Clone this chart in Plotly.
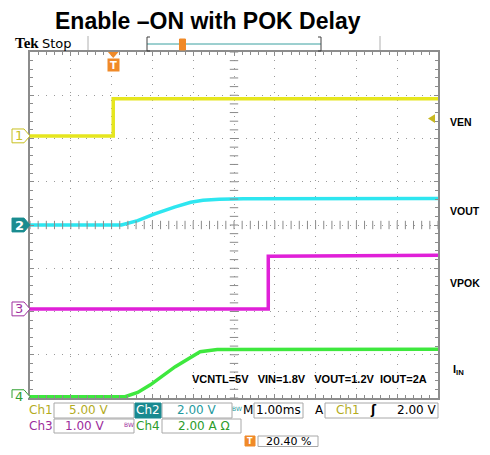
import plotly.graph_objects as go
import numpy as np

# the page body has an 8px margin, so the figure is drawn 8px in from the
# window corner; lay everything out in window pixels and shift by that
PAD = 8
W, H = 490 - 2 * PAD, 455 - 2 * PAD

# time axis in ms, relative to trigger (1.00 ms/div, trigger at 20.40 % of record)
t_start, t_end = -2.04, 7.96

# Ch1 VEN (V)
t_ven = [-2.04, 0.0, 0.0, 7.96]
ven = [0.0, 0.0, 4.3, 4.3]
# Ch2 VOUT (V)
t_vout = [-2.04, 0.2, 0.6, 1.0, 1.5, 1.9, 2.2, 2.6, 3.2, 7.96]
vout = [0.0, 0.0, 0.2, 0.5, 0.83, 1.05, 1.14, 1.19, 1.21, 1.22]
# Ch3 VPOK (V)
t_vpok = [-2.04, 3.8, 3.8, 7.96]
vpok = [0.0, 0.0, 1.22, 1.24]
# Ch4 IIN (A)
t_iin = [-2.04, 0.29, 0.6, 0.91, 1.52, 2.13, 2.55, 7.96]
iin = [0.0, 0.0, 0.2, 0.55, 1.39, 2.08, 2.18, 2.2]

trig_level = 2.0  # V on Ch1

# name, time, values, units/div, ground position (div), trace colour
channels = [
    ("1", t_ven, ven, 5.0, 2.06, "#e6e61e"),
    ("2", t_vout, vout, 2.0, 0.0, "#2ee6f0"),
    ("3", t_vpok, vpok, 1.0, -1.94, "#e020d8"),
    ("4", t_iin, iin, 2.0, -3.97, "#3ee83e"),
]

# plot frame in window pixels
X0, X1, Y0, Y1 = 30, 438, 52, 398


def px(x):
    return (x - PAD) / W


def py(y):
    return 1 - (y - PAD) / H


fig = go.Figure()

for name, t, v, scale, gnd, col in channels:
    fig.add_trace(go.Scatter(x=t, y=[gnd + val / scale for val in v],
                             mode="lines", line=dict(color=col, width=3.5),
                             hoverinfo="skip", showlegend=False))

# graticule ticks on the centre cross
cx = t_start + 5
xs = np.arange(t_start, t_end + 1e-6, 0.2)
ys = np.arange(-4, 4 + 1e-6, 0.2)
fig.add_trace(go.Scatter(x=xs, y=np.zeros_like(xs), mode="markers",
                         marker=dict(symbol="line-ns", size=6,
                                     line=dict(color="#8a8a8a", width=1)),
                         hoverinfo="skip", showlegend=False))
fig.add_trace(go.Scatter(x=np.full_like(ys, cx), y=ys, mode="markers",
                         marker=dict(symbol="line-ew", size=6,
                                     line=dict(color="#8a8a8a", width=1)),
                         hoverinfo="skip", showlegend=False))

axis_common = dict(showticklabels=False, showline=True, linecolor="#8c8c8c",
                   linewidth=2, mirror="allticks", ticks="inside", ticklen=4,
                   tickcolor="#8c8c8c", showgrid=True, gridcolor="#9a9a9a",
                   griddash="1px,7px", gridwidth=1, zeroline=False,
                   fixedrange=True)
fig.update_xaxes(range=[t_start, t_end], tick0=t_start, dtick=1,
                 domain=[px(X0), px(X1)],
                 minor=dict(ticks="inside", ticklen=3, tick0=t_start, dtick=0.2,
                            tickcolor="#8c8c8c", showgrid=False),
                 **axis_common)
fig.update_yaxes(range=[-4, 4], tick0=-4, dtick=1,
                 domain=[py(Y1), py(Y0)],
                 minor=dict(ticks="inside", ticklen=3, tick0=-4, dtick=0.2,
                            tickcolor="#8c8c8c", showgrid=False),
                 **axis_common)

shapes = []
ann = []


def text(x, y, s, size=12, color="black", family="DejaVu Sans", anchor="center", **kw):
    ann.append(dict(x=px(x), y=py(y), xref="paper", yref="paper", text=s,
                    showarrow=False, xanchor=anchor, yanchor="middle",
                    font=dict(size=size, color=color, family=family), **kw))


def rect(x0, y0, x1, y1, line="#a8a8a8", fill="white"):
    shapes.append(dict(type="rect", xref="paper", yref="paper",
                       x0=px(x0), x1=px(x1), y0=py(y1), y1=py(y0),
                       line=dict(color=line, width=1), fillcolor=fill))


# title
text(208, 21, "<b>Enable –ON with POK Delay</b>", size=23,
     family="Liberation Sans", borderpad=0)

# header
text(13, 43, "<b>Tek</b>", size=15, family="Liberation Serif", anchor="left")
text(40, 43, "Stop", size=13, anchor="left")
for xv in (88, 380):
    shapes.append(dict(type="line", xref="paper", yref="paper",
                       x0=px(xv), x1=px(xv), y0=py(36), y1=py(50),
                       line=dict(color="#b0b0b0", width=1)))
shapes.append(dict(type="line", xref="paper", yref="paper",
                   x0=px(147), x1=px(321), y0=py(44), y1=py(44),
                   line=dict(color="#3aa0a0", width=1)))
for xv, d in ((147, 1), (321, -1)):
    shapes.append(dict(type="path", xref="paper", yref="paper",
                       path=f"M{px(xv + 3 * d)},{py(37)} L{px(xv)},{py(37)} "
                            f"L{px(xv)},{py(51)} L{px(xv + 3 * d)},{py(51)}",
                       line=dict(color="#404040", width=1)))
rec_x = 147 + 0.204 * (321 - 147)
shapes.append(dict(type="rect", xref="paper", yref="paper",
                   x0=px(rec_x - 3), x1=px(rec_x + 3), y0=py(50), y1=py(39),
                   fillcolor="#f08a28", line=dict(color="#f08a28", width=1)))

# trigger position marker
shapes.append(dict(type="path", xref="x", yref="paper",
                   path=f"M{-0.13},{py(52)} L{0.13},{py(52)} L0,{py(58)} Z",
                   fillcolor="#f08a28", line=dict(width=0)))
ann.append(dict(x=0, y=py(65), xref="x", yref="paper", text="<b>T</b>",
                showarrow=False, bgcolor="#f08a28", borderpad=0,
                font=dict(size=10, color="white", family="DejaVu Sans"),
                xanchor="center", yanchor="middle", width=11, height=12))

# trigger level marker (right edge)
lvl = channels[0][4] + trig_level / channels[0][3]
shapes.append(dict(type="path", xref="paper", yref="y",
                   path=f"M{px(428)},{lvl} L{px(435)},{lvl + 0.1} "
                        f"L{px(435)},{lvl - 0.1} Z",
                   fillcolor="#c8b820", line=dict(width=0)))

# channel ground markers (left)
for name, t, v, scale, gnd, col in channels:
    dark = {"1": "#c8c020", "2": "#1a8c90", "3": "#a030a0", "4": "#30a030"}[name]
    filled = name == "2"
    shapes.append(dict(type="path", xref="paper", yref="y",
                       path=f"M{px(12)},{gnd + 0.16} L{px(24)},{gnd + 0.16} "
                            f"L{px(30)},{gnd} L{px(24)},{gnd - 0.16} "
                            f"L{px(12)},{gnd - 0.16} Z",
                       fillcolor=dark if filled else "white",
                       line=dict(color=dark, width=1)))
    ann.append(dict(x=px(19), y=gnd, xref="paper", yref="y",
                    text=f"<b>{name}</b>" if filled else name, showarrow=False,
                    font=dict(size=13, color="white" if filled else dark,
                              family="DejaVu Sans"),
                    xanchor="center", yanchor="middle"))

# signal names (right)
for lbl, yv in (("VEN", 122), ("VOUT", 211), ("VPOK", 283)):
    text(449, yv, f"<b>{lbl}</b>", size=10.5, family="Liberation Sans",
         anchor="left", borderpad=0)
text(452, 370, "<b>I</b><sub><b>IN</b></sub>", size=11,
     family="Liberation Sans", anchor="left", borderpad=0)

# test conditions
text(309, 379, "<b>VCNTL=5V   VIN=1.8V   VOUT=1.2V  IOUT=2A</b>", size=11,
     family="Liberation Sans")

# readout area
c1, c2, c3, c4 = "#b4ac1e", "#1f9a9e", "#9c2c9c", "#2c9c2c"
r1, r2 = 410, 426
rect(54, 403, 134, 418)
rect(162, 403, 232, 418)
rect(254, 403, 303, 418)
rect(325, 403, 438, 418)
rect(54, 419, 134, 433)
rect(162, 419, 241, 433)
rect(258, 436, 318, 446.5)
rect(135, 403, 161, 418, line="#1a8a90", fill="#1a8a90")
shapes.append(dict(type="rect", xref="paper", yref="paper",
                   x0=px(245), x1=px(255), y0=py(446), y1=py(436),
                   fillcolor="#f08a28", line=dict(color="#f08a28", width=1)))

text(41, r1, "Ch1", 12, c1)
text(89, r1, "5.00 V", 12, c1)
text(148, r1, "Ch2", 12, "white")
text(197, r1, "2.00 V", 12, c2)
text(237, r1 - 2, "BW", 6, c2)
text(248, r1, "M", 12)
text(278, r1, "1.00ms", 12)
text(319, r1, "A", 12)
text(348, r1, "Ch1", 12, c1)
text(373, r1, "<b>ʃ</b>", 12)
text(417, r1, "2.00 V", 12)
text(41, r2, "Ch3", 12, c3)
text(85, r2, "1.00 V", 12, c3)
text(129, r2 - 2, "BW", 6, c3)
text(148, r2, "Ch4", 12, c4)
text(204, r2, "2.00 A Ω", 12, c4)
text(250, 441, "<b>T</b>", 8, "white")
text(288, 441, "20.40 %", 11)

fig.update_layout(width=W, height=H, margin=dict(l=0, r=0, t=0, b=0),
                  paper_bgcolor="white", plot_bgcolor="white",
                  shapes=shapes, annotations=ann, showlegend=False)

fig.write_html("out.html")
